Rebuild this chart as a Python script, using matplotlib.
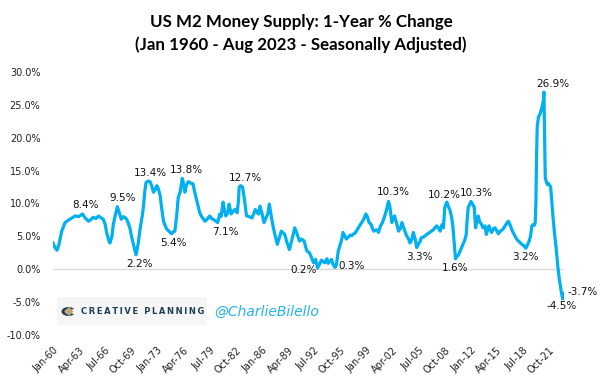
import matplotlib
matplotlib.use("Agg")
import matplotlib.pyplot as plt
from matplotlib.patches import Rectangle, Wedge, Polygon

# ---- data (month index: 0 = Jan 1960, 763 = Aug 2023), 1-year % change ----
months = [0, 3, 6, 9, 13, 18, 25, 30, 33, 38, 44, 48, 53, 57, 60, 64, 68, 72, 75, 78,
          80, 83, 85, 88, 90, 93, 96, 99, 102, 105, 107, 110, 112, 115, 117, 120, 124, 127, 130, 133,
          135, 137, 139, 142, 145, 148, 150, 152, 155, 157, 160, 162, 165, 168, 170, 173, 177, 180, 182, 185,
          187, 190, 193, 195, 197, 199, 202, 204, 207, 209, 211, 214, 217, 219, 222, 227, 230, 234, 237, 239,
          242, 246, 249, 251, 254, 256, 258, 261, 263, 266, 269, 272, 275, 277, 278, 280, 283, 286, 289, 293,
          297, 300, 302, 305, 307, 309, 312, 315, 318, 321, 323, 326, 329, 332, 335, 338, 341, 344, 346, 349,
          353, 356, 359, 361, 364, 368, 371, 375, 377, 379, 383, 386, 389, 392, 395, 398, 401, 403, 406, 409,
          411, 414, 416, 418, 421, 423, 426, 428, 431, 433, 436, 438, 441, 444, 446, 448, 451, 453, 456, 459,
          461, 464, 467, 469, 472, 475, 477, 479, 483, 486, 489, 492, 495, 498, 501, 503, 506, 508, 510, 513,
          516, 519, 521, 524, 528, 531, 533, 536, 538, 541, 543, 546, 548, 550, 553, 556, 558, 561, 565, 568,
          570, 573, 576, 578, 581, 583, 585, 588, 590, 593, 595, 597, 599, 601, 603, 605, 608, 611, 613, 615,
          617, 618, 620, 622, 624, 627, 629, 631, 633, 635, 637, 640, 642, 645, 647, 649, 651, 653, 655, 658,
          660, 663, 665, 668, 672, 675, 678, 680, 683, 686, 689, 693, 696, 700, 703, 706, 708, 711, 713, 715,
          717, 719, 720, 721, 722, 723, 725, 727, 730, 732, 733, 734, 735, 736, 738, 740, 743, 745, 747, 749,
          751, 754, 756, 759, 761, 762, 763]
m2_yoy = [4.0, 3.3, 2.9, 3.8, 5.8, 7.1, 7.6, 7.9, 8.1, 8.0, 8.4, 7.8, 7.3, 7.6, 7.9, 7.7, 8.1, 7.8, 7.6, 6.8,
          5.6, 4.5, 4.0, 5.0, 6.8, 8.2, 9.5, 8.6, 7.6, 8.0, 7.9, 7.6, 7.1, 6.2, 5.1, 3.8, 2.2, 3.8, 6.1, 8.0,
          9.4, 11.8, 13.2, 13.4, 13.3, 12.5, 11.7, 12.0, 12.7, 12.3, 11.2, 9.5, 7.3, 6.5, 6.1, 5.8, 5.4, 5.7, 5.8, 8.5,
          10.9, 11.8, 13.8, 13.0, 11.7, 12.7, 13.3, 13.2, 13.0, 13.0, 12.0, 10.7, 9.5, 8.6, 8.0, 7.3, 7.6, 8.1, 7.7, 7.6,
          7.4, 7.1, 8.4, 8.0, 10.2, 9.0, 8.1, 8.6, 9.9, 8.4, 8.8, 9.1, 8.6, 10.5, 12.5, 12.7, 12.5, 10.5, 8.1, 8.0,
          7.8, 8.5, 9.1, 8.6, 8.4, 9.6, 8.5, 7.1, 7.8, 8.5, 9.9, 8.0, 6.3, 5.0, 3.8, 4.8, 5.8, 5.5, 5.3, 4.2,
          3.0, 4.2, 5.5, 6.3, 5.5, 4.3, 4.6, 4.3, 3.5, 2.8, 2.5, 1.8, 1.0, 1.5, 0.2, 0.8, 1.4, 1.2, 1.0, 1.6,
          0.9, 1.3, 1.5, 0.8, 0.3, 0.6, 2.8, 3.5, 4.5, 5.6, 5.0, 4.6, 4.9, 5.2, 5.1, 5.3, 5.5, 5.8, 6.3, 6.8,
          7.1, 7.6, 8.4, 8.1, 7.1, 6.8, 6.2, 5.8, 6.0, 5.6, 6.6, 7.1, 8.0, 9.0, 10.3, 9.5, 7.1, 7.8, 8.1, 7.0,
          5.8, 6.3, 7.1, 6.2, 5.1, 4.6, 4.0, 4.6, 5.6, 4.5, 3.3, 3.9, 4.2, 4.8, 4.9, 5.1, 5.3, 5.5, 5.8, 6.0,
          6.3, 6.6, 6.2, 5.8, 6.8, 6.3, 9.4, 10.2, 9.6, 8.9, 8.0, 6.6, 4.0, 1.6, 2.0, 2.1, 2.8, 3.5, 4.0, 4.5,
          5.3, 7.0, 9.4, 9.8, 10.3, 9.8, 9.4, 6.3, 7.5, 8.1, 7.2, 6.8, 6.3, 6.6, 5.3, 6.0, 6.6, 6.0, 5.6, 6.2,
          6.3, 5.8, 5.4, 5.8, 6.1, 6.6, 7.1, 7.3, 6.6, 5.8, 5.2, 4.5, 4.2, 3.8, 3.6, 3.2, 3.6, 4.3, 5.0, 6.6,
          6.8, 6.7, 7.1, 10.0, 17.0, 21.6, 23.2, 23.5, 24.5, 25.5, 26.9, 20.0, 14.0, 13.5, 12.9, 13.0, 12.5, 10.0, 7.5, 5.3,
          3.5, 0.2, -1.5, -3.4, -4.5, -3.9, -3.7]

tick_labels = ["Jan-60", "Apr-63", "Jul-66", "Oct-69", "Jan-73", "Apr-76", "Jul-79", "Oct-82",
               "Jan-86", "Apr-89", "Jul-92", "Oct-95", "Jan-99", "Apr-02", "Jul-05", "Oct-08",
               "Jan-12", "Apr-15", "Jul-18", "Oct-21"]
tick_step = 39

# labelled points: (month index, value)
label_months = [44, 96, 124, 142, 193, 177, 280, 246, 395, 421, 501, 543, 588, 601, 624, 706, 733, 761, 763]
label_values = [8.4, 9.5, 2.2, 13.4, 13.8, 5.4, 12.7, 7.1, 0.2, 0.3, 10.3, 3.3, 10.2, 1.6, 10.3, 3.2, 26.9, -4.5, -3.7]
# label offsets in pixels (style only)
label_offsets = [(3, 9), (5, 9), (3, -9), (2, 8), (4, 8), (2, -9), (5, 8), (8, -9), (-14, -2), (17, 1),
                 (5, 9), (3, -9), (-2, 7), (0, -9), (5, 8), (0, -9), (9, 8), (-1, -7), (19, 2)]

W, H = 602, 381
fig = plt.figure(figsize=(W / 100, H / 100), dpi=100)
fig.patch.set_facecolor("white")
ax = fig.add_axes([53 / W, 1 - 335.2 / H, 511 / W, (335.2 - 71.7) / H])

line_color = "#00B0F0"
ax.axhline(0, color="#d9d9d9", lw=1.0, zorder=1)
ax.plot(months, m2_yoy, color=line_color, lw=2.3, solid_joinstyle="round", zorder=3)

ax.set_xlim(0, 763)
ax.set_ylim(-10, 30)
ax.set_yticks([-10, -5, 0, 5, 10, 15, 20, 25, 30])
ax.set_yticklabels([f"{v:.1f}%" for v in [-10, -5, 0, 5, 10, 15, 20, 25, 30]])
ax.set_xticks([i * tick_step for i in range(len(tick_labels))])
ax.set_xticklabels(tick_labels, rotation=45, ha="right", rotation_mode="anchor")
for s in ax.spines.values():
    s.set_visible(False)
ax.tick_params(axis="y", length=0, pad=9, labelsize=7, labelcolor="#222222")
ax.tick_params(axis="x", length=0, pad=7, labelsize=7, labelcolor="#222222")

for m, v, (dx, dy) in zip(label_months, label_values, label_offsets):
    ax.annotate(f"{v:.1f}%", xy=(m, v), xytext=(dx, dy), textcoords="offset pixels",
                ha="center", va="center", fontsize=7.5, color="#111111", zorder=5)

# titles
fig.text(0.5, 1 - 22 / H, "US M2 Money Supply: 1-Year % Change", ha="center", va="center",
         fontsize=12.2, fontweight="bold", family="Lato", color="#000000")
fig.text(0.5, 1 - 45 / H, "(Jan 1960 - Aug 2023 - Seasonally Adjusted)", ha="center", va="center",
         fontsize=12.2, fontweight="bold", family="Lato", color="#000000")

# logo block
fig.patches.append(Rectangle((57 / W, 1 - 325 / H), 150 / W, 28 / H, transform=fig.transFigure,
                             facecolor="#f6f6f6", edgecolor="none", zorder=0))
cx, cy = 68.5, 311.5
fig.patches.append(Wedge((cx / W, 1 - cy / H), 7 / W, 40, 320, width=3.2 / W, transform=fig.transFigure,
                         facecolor="#1f3f52", edgecolor="none"))
fig.patches.append(Polygon([((cx + 0.5) / W, 1 - (cy - 4.5) / H), ((cx + 5) / W, 1 - cy / H),
                            ((cx + 0.5) / W, 1 - (cy + 4.5) / H), ((cx - 4) / W, 1 - cy / H)],
                           closed=True, transform=fig.transFigure, facecolor="#c3a57a", edgecolor="none"))
fig.text(81 / W, 1 - 312 / H, "\u2009".join("CREATIVE PLANNING"), ha="left", va="center", fontsize=6.0,
         fontweight="bold", color="#1f3f52", family="DejaVu Sans")
fig.text(214 / W, 1 - 312 / H, "@CharlieBilello", ha="left", va="center", fontsize=10,
         style="italic", color="#22b4ea", family="DejaVu Sans")

fig.savefig("out.png", dpi=100, facecolor="white")
